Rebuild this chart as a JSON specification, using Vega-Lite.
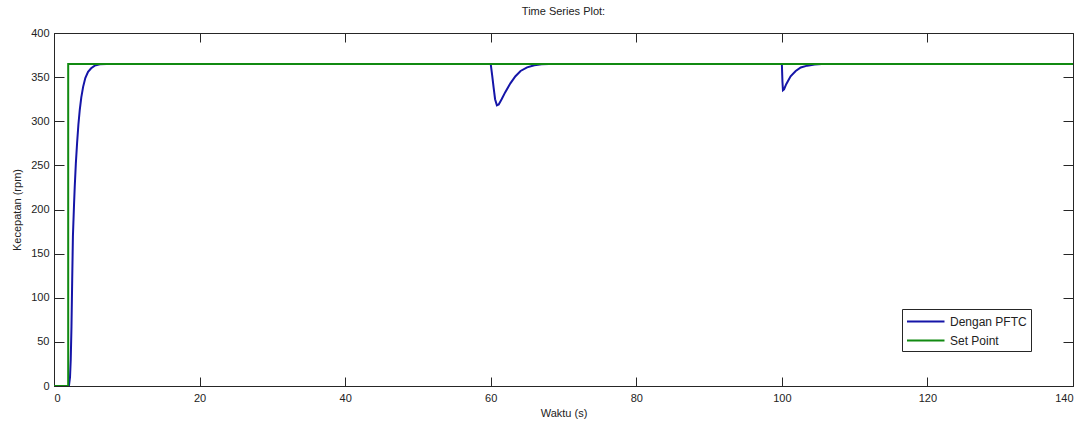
{
  "$schema": "https://vega.github.io/schema/vega-lite/v6.json",
  "width": 1019,
  "height": 353,
  "autosize": {"type": "none"},
  "padding": {"left": 54, "top": 33, "right": 10, "bottom": 35},
  "background": "white",
  "title": {"text": "Time Series Plot:", "fontSize": 11, "fontWeight": "normal", "font": "Liberation Sans", "color": "#222222", "anchor": "middle", "offset": 10},
  "config": {
    "view": {"stroke": "#262626", "strokeWidth": 1},
    "axis": {"labelFont": "Liberation Sans", "titleFont": "Liberation Sans", "labelFontSize": 11, "titleFontSize": 11, "titleFontWeight": "normal", "labelColor": "#222222", "titleColor": "#222222", "domainColor": "#262626", "tickColor": "#262626", "grid": false}
  },
  "data": {"values": [
    {"series": "Dengan PFTC", "t": 0, "v": 0},
    {"series": "Dengan PFTC", "t": 2.05, "v": 0},
    {"series": "Dengan PFTC", "t": 2.2, "v": 10},
    {"series": "Dengan PFTC", "t": 2.3, "v": 30},
    {"series": "Dengan PFTC", "t": 2.4, "v": 67},
    {"series": "Dengan PFTC", "t": 2.5, "v": 120},
    {"series": "Dengan PFTC", "t": 2.6, "v": 170},
    {"series": "Dengan PFTC", "t": 2.75, "v": 205},
    {"series": "Dengan PFTC", "t": 2.85, "v": 226},
    {"series": "Dengan PFTC", "t": 3.0, "v": 252},
    {"series": "Dengan PFTC", "t": 3.17, "v": 275},
    {"series": "Dengan PFTC", "t": 3.35, "v": 296},
    {"series": "Dengan PFTC", "t": 3.54, "v": 313},
    {"series": "Dengan PFTC", "t": 3.75, "v": 327},
    {"series": "Dengan PFTC", "t": 4.0, "v": 339},
    {"series": "Dengan PFTC", "t": 4.3, "v": 349},
    {"series": "Dengan PFTC", "t": 4.68, "v": 356},
    {"series": "Dengan PFTC", "t": 5.1, "v": 360},
    {"series": "Dengan PFTC", "t": 5.6, "v": 363},
    {"series": "Dengan PFTC", "t": 6.3, "v": 364.5},
    {"series": "Dengan PFTC", "t": 7.2, "v": 365},
    {"series": "Dengan PFTC", "t": 60, "v": 365},
    {"series": "Dengan PFTC", "t": 60.2, "v": 352},
    {"series": "Dengan PFTC", "t": 60.4, "v": 338},
    {"series": "Dengan PFTC", "t": 60.6, "v": 325},
    {"series": "Dengan PFTC", "t": 60.85, "v": 318},
    {"series": "Dengan PFTC", "t": 61.1, "v": 319},
    {"series": "Dengan PFTC", "t": 61.5, "v": 325},
    {"series": "Dengan PFTC", "t": 62, "v": 333},
    {"series": "Dengan PFTC", "t": 62.7, "v": 343},
    {"series": "Dengan PFTC", "t": 63.4, "v": 351},
    {"series": "Dengan PFTC", "t": 64.1, "v": 357},
    {"series": "Dengan PFTC", "t": 65, "v": 361},
    {"series": "Dengan PFTC", "t": 66, "v": 363.5},
    {"series": "Dengan PFTC", "t": 67, "v": 364.5},
    {"series": "Dengan PFTC", "t": 68, "v": 365},
    {"series": "Dengan PFTC", "t": 100, "v": 365},
    {"series": "Dengan PFTC", "t": 100.08, "v": 345},
    {"series": "Dengan PFTC", "t": 100.15, "v": 335},
    {"series": "Dengan PFTC", "t": 100.3, "v": 336},
    {"series": "Dengan PFTC", "t": 100.6, "v": 342},
    {"series": "Dengan PFTC", "t": 101.2, "v": 351},
    {"series": "Dengan PFTC", "t": 101.9, "v": 357},
    {"series": "Dengan PFTC", "t": 102.6, "v": 361},
    {"series": "Dengan PFTC", "t": 103.5, "v": 363},
    {"series": "Dengan PFTC", "t": 104.5, "v": 364.3},
    {"series": "Dengan PFTC", "t": 105.5, "v": 365},
    {"series": "Dengan PFTC", "t": 140, "v": 365},
    {"series": "Set Point", "t": 0, "v": 0},
    {"series": "Set Point", "t": 1.95, "v": 0},
    {"series": "Set Point", "t": 1.95, "v": 365},
    {"series": "Set Point", "t": 140, "v": 365}
  ]},
  "layer": [
    {
      "mark": {"type": "line", "strokeWidth": 2, "clip": true},
      "encoding": {
        "x": {"field": "t", "type": "quantitative", "scale": {"domain": [0, 140], "nice": false, "zero": false},
              "axis": {"title": "Waktu (s)", "values": [0,20,40,60,80,100,120,140], "tickSize": -9, "labelPadding": 15, "titlePadding": 4}},
        "y": {"field": "v", "type": "quantitative", "scale": {"domain": [0, 400], "nice": false},
              "axis": {"title": "Kecepatan (rpm)", "values": [0,50,100,150,200,250,300,350,400], "tickSize": -10, "labelPadding": 15, "titlePadding": 8}},
        "color": {"field": "series", "type": "nominal",
                  "scale": {"domain": ["Dengan PFTC", "Set Point"], "range": ["#1515a8", "#118a11"]},
                  "legend": {"title": null, "orient": "none", "legendX": 848, "legendY": 276,
                             "symbolType": "M-1,0H4", "symbolSize": 225, "symbolStrokeWidth": 2,
                             "labelFont": "Liberation Sans", "labelFontSize": 12, "labelColor": "#222222",
                             "strokeColor": "#262626", "fillColor": "white", "padding": 4, "rowPadding": 4,
                             "labelOffset": 27}},
        "order": {"field": "t", "type": "quantitative"}
      }
    },
    {
      "mark": {"type": "point", "opacity": 0},
      "encoding": {
        "x": {"field": "t", "type": "quantitative", "scale": {"domain": [0, 140], "nice": false, "zero": false},
              "axis": {"orient": "top", "title": null, "labels": false, "domain": false, "values": [0,20,40,60,80,100,120,140], "tickSize": -9}},
        "y": {"field": "v", "type": "quantitative", "scale": {"domain": [0, 400], "nice": false},
              "axis": {"orient": "right", "title": null, "labels": false, "domain": false, "values": [0,50,100,150,200,250,300,350,400], "tickSize": -10}}
      }
    }
  ],
  "resolve": {"axis": {"x": "independent", "y": "independent"}}
}
